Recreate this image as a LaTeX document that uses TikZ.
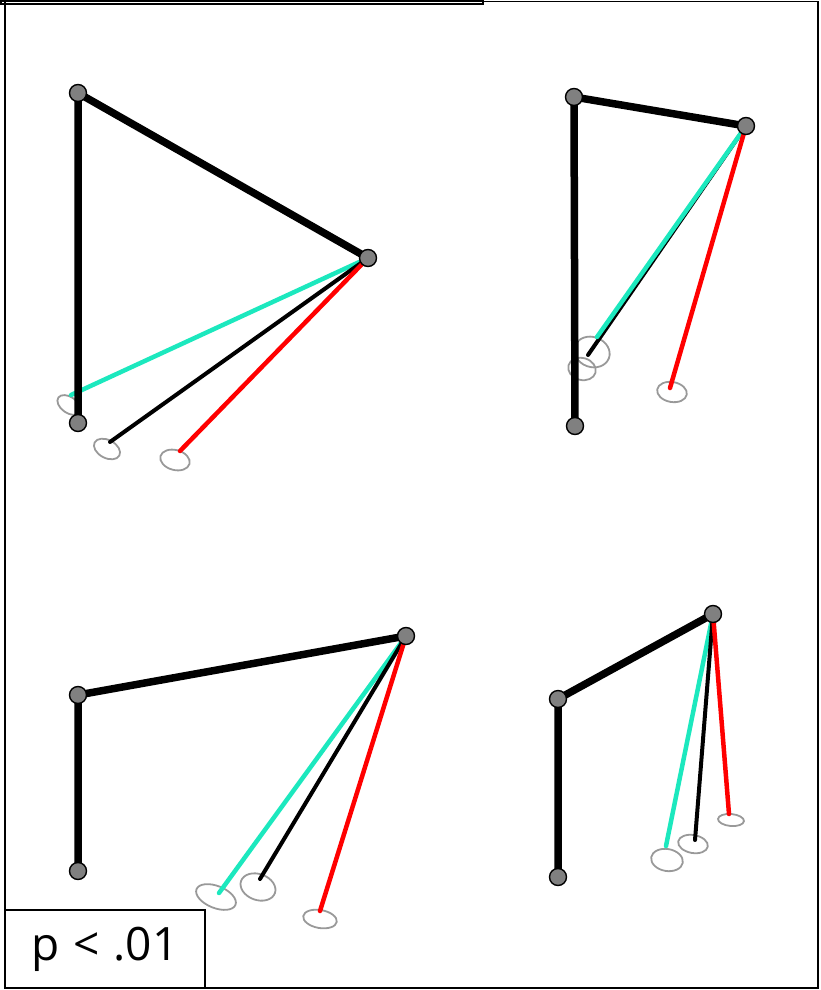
\documentclass[tikz,border=0pt]{standalone}
\usepackage{fontspec}
\setmainfont{Open Sans}
\usepackage{tikz}
\usetikzlibrary{positioning, calc}

\definecolor{trackcyan}{RGB}{28,232,190}
\definecolor{trackred}{RGB}{255,0,0}
\definecolor{jointgray}{RGB}{128,128,128}

\begin{document}
\begin{tikzpicture}[x=1pt, y=-1pt, line cap=round]

    % Custom styles for the stick figures
    \tikzset{
        limb/.style={line width=7.5pt, black},
        trace/.style={line width=4.5pt},
        thintrace/.style={line width=4pt, black},
        joint/.style={circle, draw=black, fill=jointgray, line width=1.4pt,
            minimum size=17pt, inner sep=0pt},
        blob/.style={draw=gray!80, line width=1.8pt}
    }

    \useasboundingbox (0,0) rectangle (821,990);

    % ==========================================
    % Frame
    % ==========================================
    \draw[line width=1.5pt] (5,1.5) rectangle (818,988);
    \draw[line width=1.2pt] (1,1) rectangle (483,4);

    % ==========================================
    % Panel (i): top left
    % ==========================================
    \coordinate (A) at (78,93);
    \coordinate (B) at (78,423);
    \coordinate (C) at (368,258);
    \coordinate (cA) at (71,395);
    \coordinate (kA) at (110,442);
    \coordinate (rA) at (180,451);

    % Ellipses
    \draw[blob, rotate around={-35:(69,405)}] (69,405) ellipse (13 and 8);
    \draw[blob, rotate around={-28:(107,449)}] (107,449) ellipse (14 and 9);
    \draw[blob, rotate around={-15:(175,460)}] (175,460) ellipse (15 and 10);

    % Traces
    \draw[trace, trackcyan] (C) -- (cA);
    \draw[thintrace] (C) -- (kA);
    \draw[trace, trackred] (C) -- (rA);

    % Limbs
    \draw[limb] (B) -- (A) -- (C);
    \node[joint] (A-j) at (A) {};
    \node[joint] (B-j) at (B) {};
    \node[joint] (C-j) at (C) {};

    % ==========================================
    % Panel (ii): top right
    % ==========================================
    \coordinate (D) at (574,97);
    \coordinate (E) at (746,126);
    \coordinate (F) at (575,426);
    \coordinate (cE) at (597,337);
    \coordinate (kE) at (588,355);
    \coordinate (rE) at (670,388);

    % Ellipses
    \draw[blob, rotate around={-20:(592,352)}] (592,352) ellipse (18 and 15);
    \draw[blob, rotate around={-15:(582,369)}] (582,369) ellipse (14 and 11);
    \draw[blob, rotate around={-10:(672,392)}] (672,392) ellipse (15 and 10);

    % Traces
    \draw[thintrace] (E) -- (kE);
    \draw[trace, trackcyan] (E) -- (cE);
    \draw[trace, trackred] (E) -- (rE);

    % Limbs
    \draw[limb] (F) -- (D) -- (E);
    \node[joint] (D-j) at (D) {};
    \node[joint] (E-j) at (E) {};
    \node[joint] (F-j) at (F) {};

    % ==========================================
    % Panel (iii): bottom left
    % ==========================================
    \coordinate (G) at (78,695);
    \coordinate (H) at (78,871);
    \coordinate (I) at (406,636);
    \coordinate (cI) at (219,893);
    \coordinate (kI) at (260,879);
    \coordinate (rI) at (320,911);

    % Ellipses
    \draw[blob, rotate around={-22:(216,897)}] (216,897) ellipse (21 and 11);
    \draw[blob, rotate around={-20:(258,887)}] (258,887) ellipse (18 and 13);
    \draw[blob, rotate around={-10:(320,919)}] (320,919) ellipse (17 and 9);

    % Traces
    \draw[trace, trackcyan] (I) -- (cI);
    \draw[thintrace] (I) -- (kI);
    \draw[trace, trackred] (I) -- (rI);

    % Limbs
    \draw[limb] (H) -- (G) -- (I);
    \node[joint] (G-j) at (G) {};
    \node[joint] (H-j) at (H) {};
    \node[joint] (I-j) at (I) {};

    % ==========================================
    % Panel (iv): bottom right
    % ==========================================
    \coordinate (J) at (558,699);
    \coordinate (K) at (713,614);
    \coordinate (L) at (558,877);
    \coordinate (cK) at (666,846);
    \coordinate (kK) at (695,840);
    \coordinate (rK) at (729,814);

    % Ellipses
    \draw[blob, rotate around={-10:(667,860)}] (667,860) ellipse (16 and 11);
    \draw[blob, rotate around={-10:(693,844)}] (693,844) ellipse (15 and 9);
    \draw[blob, rotate around={-5:(731,820)}] (731,820) ellipse (13 and 6);

    % Traces
    \draw[trace, trackcyan] (K) -- (cK);
    \draw[thintrace] (K) -- (kK);
    \draw[trace, trackred] (K) -- (rK);

    % Limbs
    \draw[limb] (L) -- (J) -- (K);
    \node[joint] (J-j) at (J) {};
    \node[joint] (K-j) at (K) {};
    \node[joint] (L-j) at (L) {};

    % ==========================================
    % Significance label
    % ==========================================
    \node[draw, line width=1.3pt, minimum width=200pt, minimum height=78pt,
        inner sep=0pt, font=\fontsize{46}{52}\selectfont] (pval) at (105,949)
        {p\hspace{0.3em}<\hspace{0.3em}.01};

\end{tikzpicture}
\end{document}
